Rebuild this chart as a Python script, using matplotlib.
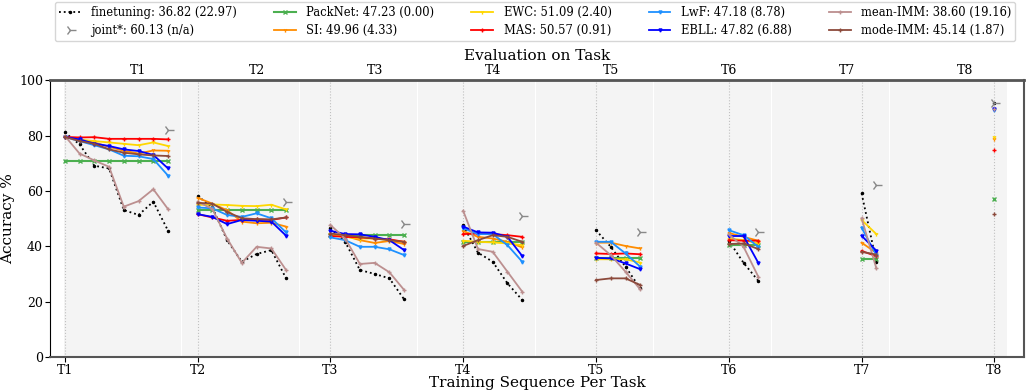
import matplotlib
matplotlib.use("Agg")
import matplotlib.pyplot as plt

tasks = ["T1", "T2", "T3", "T4", "T5", "T6", "T7", "T8"]

finetuning = [[81.1, 76.8, 69.1, 68.1, 53.1, 51.3, 56.1, 45.6],
              [58.2, 54.0, 42.2, 34.4, 37.2, 38.6, 28.4],
              [46.5, 41.6, 31.4, 30.0, 28.4, 20.8],
              [47.5, 37.7, 34.4, 26.6, 20.6],
              [45.8, 39.8, 32.6, 24.8],
              [42.0, 34.0, 27.5],
              [59.1, 34.4],
              [91.7]]
joint = [82.0, 56.0, 48.0, 51.0, 45.0, 45.0, 62.0, 91.7]
packnet = [[70.9] * 8, [53.1] * 7, [44.0] * 6, [41.6] * 5,
           [35.6] * 4, [40.4] * 3, [35.3] * 2, [56.9]]
si = [[79.5, 78.5, 77.5, 75.9, 74.5, 73.5, 74.6, 74.5],
      [57.5, 55.4, 53.0, 48.9, 48.3, 48.5, 47.1],
      [44.4, 43.7, 42.2, 41.2, 41.9, 40.8],
      [45.5, 43.4, 42.8, 41.6, 39.6],
      [41.3, 41.3, 40.1, 39.2],
      [44.8, 43.4, 42.0],
      [41.3, 37.6],
      [78.7]]
ewc = [[79.5, 78.5, 78.0, 77.5, 77.0, 76.5, 77.5, 76.2],
       [54.9, 55.1, 54.9, 54.6, 54.5, 55.0, 53.3],
       [44.3, 43.4, 42.8, 42.8, 42.2, 41.6],
       [42.0, 41.6, 41.4, 41.0, 40.4],
       [35.3, 35.3, 35.3, 34.1],
       [42.8, 42.2, 41.0],
       [49.5, 44.4],
       [79.3]]
mas = [[79.5, 79.3, 79.4, 78.8, 78.8, 78.8, 78.8, 78.6],
       [51.6, 50.4, 49.2, 49.5, 49.7, 49.5, 50.4],
       [43.7, 43.4, 43.2, 42.8, 42.5, 41.6],
       [44.4, 44.6, 44.4, 44.0, 43.4],
       [37.4, 37.2, 37.4, 37.1],
       [42.2, 42.0, 42.0],
       [38.3, 36.4],
       [74.7]]
lwf = [[79.5, 78.0, 76.5, 75.0, 72.7, 72.5, 71.5, 65.5],
       [54.0, 53.7, 51.3, 50.6, 51.9, 50.1, 45.0],
       [43.2, 42.2, 39.8, 39.8, 38.9, 36.8],
       [46.5, 44.4, 44.4, 40.4, 34.4],
       [41.6, 41.6, 37.4, 32.6],
       [45.8, 44.0, 39.8],
       [46.7, 36.8],
       [89.3]]
ebll = [[79.5, 78.6, 77.1, 76.2, 75.0, 74.4, 73.0, 68.1],
        [51.6, 50.6, 48.0, 49.5, 49.2, 48.9, 43.8],
        [45.6, 44.4, 44.3, 43.4, 42.2, 38.6],
        [47.1, 45.0, 44.9, 43.4, 36.5],
        [35.8, 35.6, 33.8, 31.7],
        [43.7, 43.7, 34.0],
        [43.8, 38.4],
        [89.5]]
mean_imm = [[79.9, 73.5, 71.0, 68.7, 54.3, 56.3, 60.6, 53.4],
            [56.1, 53.5, 42.8, 34.0, 39.8, 39.2, 31.4],
            [47.7, 42.8, 33.6, 34.0, 30.6, 24.2],
            [52.8, 39.0, 38.0, 30.8, 23.6],
            [41.3, 36.8, 30.8, 24.4],
            [44.3, 39.8, 29.0],
            [50.1, 32.0],
            [89.5]]
mode_imm = [[79.5, 78.0, 77.0, 75.0, 73.8, 73.2, 72.8, 72.6],
            [55.7, 55.4, 52.4, 50.1, 49.8, 49.7, 50.4],
            [44.6, 44.0, 43.4, 42.8, 42.2, 41.6],
            [40.1, 42.2, 44.0, 43.4, 41.6],
            [27.8, 28.4, 28.4, 26.0],
            [40.8, 41.0, 39.0],
            [38.0, 37.0],
            [51.6]]

labels = ["finetuning: 36.82 (22.97)", "PackNet: 47.23 (0.00)", "SI: 49.96 (4.33)",
          "EWC: 51.09 (2.40)", "MAS: 50.57 (0.91)", "LwF: 47.18 (8.78)",
          "EBLL: 47.82 (6.88)", "mean-IMM: 38.60 (19.16)", "mode-IMM: 45.14 (1.87)"]
joint_label = "joint*: 60.13 (n/a)"

plt.rcParams['font.family'] = ['DejaVu Serif']

fig = plt.figure(figsize=(10.27, 3.91), dpi=100)
ax = fig.add_axes([0.0487, 0.087, 0.9483, 0.708])

n = len(tasks)
for k in range(n):
    ax.axvspan(8 * k - 0.08, 8 * k + 7.85, color='#f4f4f4', lw=0, zorder=0)
    ax.axvline(9 * k, color='#c0c0c0', ls=':', lw=0.8, zorder=1)

series = [
    (finetuning, dict(color='black', ls=':', marker='.', ms=3, lw=1.3)),
    (packnet, dict(color='#4caf50', ls='-', marker='x', ms=2.5, lw=1.5)),
    (si, dict(color='#ff8c00', ls='-', marker='1', ms=3, lw=1.3)),
    (ewc, dict(color='#ffd700', ls='-', marker='1', ms=3, lw=1.3)),
    (mas, dict(color='#ff0000', ls='-', marker='+', ms=3, lw=1.3)),
    (lwf, dict(color='#1e90ff', ls='-', marker='v', ms=2.2, lw=1.3)),
    (ebll, dict(color='#0000ff', ls='-', marker='v', ms=2.2, lw=1.3)),
    (mean_imm, dict(color='#bc8f8f', ls='-', marker='+', ms=3, lw=1.3)),
    (mode_imm, dict(color='#8c4a3c', ls='-', marker='+', ms=3, lw=1.3)),
]

handles = []
for idx, (data, style) in enumerate(series):
    h = None
    for k, vals in enumerate(data):
        xs = [8 * k + j for j in range(k, k + len(vals))]
        line, = ax.plot(xs, vals, zorder=3, **style)
        if h is None:
            h = line
    handles.append(h)
    if idx == 0:
        jx = [8 * k + 7 for k in range(n)]
        jh, = ax.plot(jx, joint, ls='none', marker='4', ms=8, color='#888888', zorder=4)
        handles.append(jh)

all_labels = [labels[0], joint_label] + labels[1:]

ax.set_xlim(-1, 65)
ax.set_ylim(0, 100)
ax.set_yticks([0, 20, 40, 60, 80, 100])
ax.set_xticks([9 * k for k in range(n)])
ax.set_xticklabels(tasks)
ax.tick_params(labelsize=9, pad=1.5)
ax.set_ylabel("Accuracy %", fontsize=11, labelpad=3)
ax.set_xlabel("Training Sequence Per Task", fontsize=11, labelpad=-0.5)

for s in ['top', 'bottom', 'right']:
    ax.spines[s].set_color('#555555')
ax.spines['top'].set_linewidth(2)
ax.spines['bottom'].set_linewidth(1.5)
ax.spines['right'].set_linewidth(1.5)

sec = ax.secondary_xaxis('top')
sec.set_xticks([8 * k + 5 for k in range(n)])
sec.set_xticklabels(tasks)
sec.tick_params(length=0, labelsize=9, pad=2)
sec.set_xlabel("Evaluation on Task", fontsize=11, labelpad=3)

fig.legend(handles, all_labels, loc='upper left', bbox_to_anchor=(0.0536, 0.995),
           borderaxespad=0, ncol=5, fontsize=8.3, frameon=True, handlelength=1.9,
           handletextpad=0.9, columnspacing=3.2, borderpad=0.35, labelspacing=0.45,
           fancybox=True, edgecolor='#cccccc')

fig.savefig("out.png", dpi=100)
